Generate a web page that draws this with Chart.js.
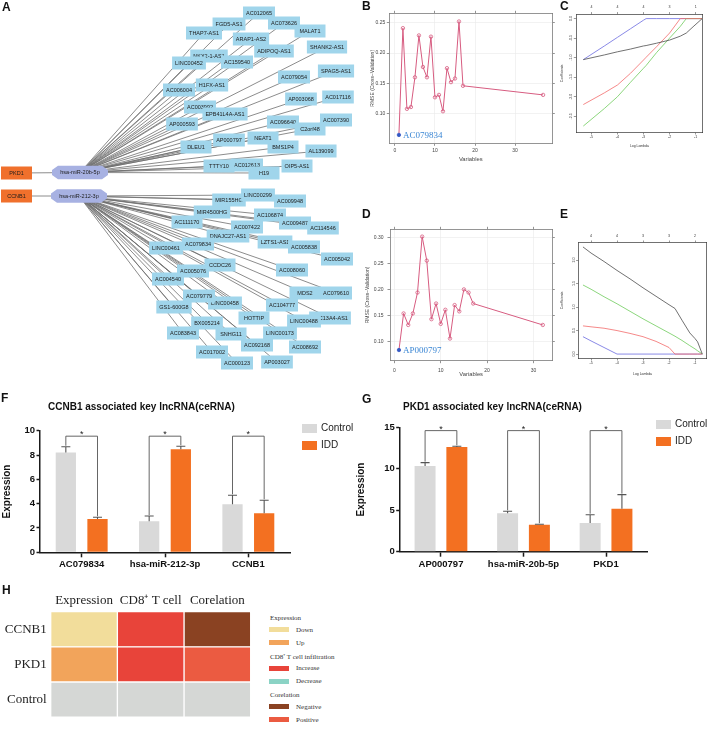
<!DOCTYPE html>
<html>
<head>
<meta charset="utf-8">
<title>ceRNA network, LASSO selection and validation</title>
<script src="https://cdn.jsdelivr.net/npm/chart.js@4.4.1/dist/chart.umd.min.js"></script>
<style>
  html, body { margin: 0; padding: 0; background: #fff; }
  #page { position: relative; width: 708px; height: 729px; overflow: hidden; font-family: "Liberation Sans", Arial, sans-serif; color: #111; }
  #page canvas { position: absolute; }
  .panel { position: absolute; font-weight: bold; font-size: 12px; line-height: 12px; }
  .title { position: absolute; font-weight: bold; font-size: 10px; line-height: 10px; white-space: nowrap; }
  .sw { position: absolute; width: 15px; height: 9px; }
  .lg { position: absolute; font-size: 10px; line-height: 12px; white-space: nowrap; color: #222; }
  .hl { position: absolute; font-family: "Liberation Serif", serif; font-size: 7px; line-height: 8px; white-space: nowrap; color: #333; }
  .hs { position: absolute; width: 20px; height: 5px; }
</style>
</head>
<body>
<div id="page">
  <canvas id="netA" width="355" height="392" style="left:0;top:0"></canvas>
  <canvas id="rmseB" width="220" height="168" style="left:340px;top:0"></canvas>
  <canvas id="pathC" width="153" height="160" style="left:555px;top:0"></canvas>
  <canvas id="rmseD" width="220" height="170" style="left:340px;top:212px"></canvas>
  <canvas id="pathE" width="153" height="170" style="left:555px;top:212px"></canvas>
  <canvas id="barF" width="354" height="172" style="left:0;top:412px"></canvas>
  <canvas id="barG" width="354" height="172" style="left:354px;top:412px"></canvas>
  <canvas id="heatH" width="262" height="144" style="left:0;top:585px"></canvas>

  <div class="panel" style="left:2px;top:1px">A</div>
  <div class="panel" style="left:362px;top:0px">B</div>
  <div class="panel" style="left:560px;top:0px">C</div>
  <div class="panel" style="left:362px;top:208px">D</div>
  <div class="panel" style="left:560px;top:208px">E</div>
  <div class="panel" style="left:1px;top:392px">F</div>
  <div class="panel" style="left:362px;top:393px">G</div>
  <div class="panel" style="left:2px;top:584px">H</div>

  <div class="title" style="left:48px;top:402px">CCNB1 associated key lncRNA(ceRNA)</div>
  <div class="title" style="left:403px;top:402px">PKD1 associated key lncRNA(ceRNA)</div>

  <div class="sw" style="left:302px;top:424px;background:#d9d9d9"></div>
  <div class="lg" style="left:321px;top:422px">Control</div>
  <div class="sw" style="left:302px;top:441px;background:#f37021"></div>
  <div class="lg" style="left:321px;top:439px">IDD</div>

  <div class="sw" style="left:656px;top:420px;background:#d9d9d9"></div>
  <div class="lg" style="left:675px;top:418px">Control</div>
  <div class="sw" style="left:656px;top:437px;background:#f37021"></div>
  <div class="lg" style="left:675px;top:435px">IDD</div>

  <div id="legendH"></div>
</div>

<script>
// ---------------- data ----------------

// A: ceRNA network
const mir20b = 'hsa-miR-20b-5p';
const mir212 = 'hsa-miR-212-3p';
const genes = ['PKD1', 'CCNB1'];
const geneMirna = { PKD1: mir20b, CCNB1: mir212 };
const targets20b = ['MALAT1', 'AC012065', 'FGD5-AS1', 'AC073626', 'THAP7-AS1', 'ARAP1-AS2',
  'ADIPOQ-AS1', 'SHANK2-AS1', 'NKX2-1-AS1', 'LINC00452', 'AC159540', 'SPAG5-AS1', 'AC079054',
  'AC006004', 'H1FX-AS1', 'AP003068', 'AC017116', 'AC003992', 'EPB41L4A-AS1', 'AP000593',
  'AC096640', 'AC007390', 'C2orf48', 'NEAT1', 'AP000797', 'DLEU1', 'BMS1P4', 'AL139099',
  'AC012613', 'TTTY10', 'H19', 'OIP5-AS1'];
const targets212 = ['MIR155HG', 'LINC00299', 'AC009948', 'MIR4500HG', 'AC106874', 'AC111170',
  'DNAJC27-AS1', 'AC007422', 'AC009487', 'AC114546', 'LZTS1-AS1', 'AC005838', 'LINC00461',
  'AC079834', 'AC005042', 'CCDC26', 'AC005076', 'AC008060', 'AC004540', 'MDS2', 'AC079610',
  'LINC00458', 'AC079779', 'GS1-600G8', 'AC104777', 'SLC13A4-AS1', 'LINC00488', 'HOTTIP',
  'BX005214', 'AC083843', 'SNHG11', 'LINC00173', 'AC092168', 'AC008692', 'AC017002',
  'AP003027', 'AC000123'];
// network layout (layout units of the drawing)
const layoutA = {
  'PKD1': [16.5, 173], 'CCNB1': [16.5, 196],
  'hsa-miR-20b-5p': [80, 172.5], 'hsa-miR-212-3p': [79, 196],
  'MALAT1': [310, 31], 'AC012065': [259, 13], 'FGD5-AS1': [229, 24], 'AC073626': [284, 23],
  'THAP7-AS1': [204, 33], 'ARAP1-AS2': [251, 39], 'ADIPOQ-AS1': [274, 51], 'SHANK2-AS1': [327, 47],
  'NKX2-1-AS1': [209, 56], 'LINC00452': [189, 63], 'AC159540': [237, 62], 'SPAG5-AS1': [336, 71],
  'AC079054': [294, 77], 'AC006004': [179, 90], 'H1FX-AS1': [212, 85], 'AP003068': [301, 99],
  'AC017116': [338, 97], 'AC003992': [200, 107], 'EPB41L4A-AS1': [225, 114], 'AP000593': [182, 124],
  'AC096640': [283, 122], 'AC007390': [336, 120], 'C2orf48': [310, 129], 'NEAT1': [263, 138],
  'AP000797': [229, 140], 'DLEU1': [196, 147], 'BMS1P4': [283, 147], 'AL139099': [321, 151],
  'AC012613': [247, 165], 'TTTY10': [219, 166], 'H19': [264, 173], 'OIP5-AS1': [297, 166],
  'MIR155HG': [229, 200], 'LINC00299': [258, 195], 'AC009948': [290, 201], 'MIR4500HG': [212, 212],
  'AC106874': [270, 215], 'AC111170': [187, 222], 'DNAJC27-AS1': [228, 236], 'AC007422': [247, 227],
  'AC009487': [295, 223], 'AC114546': [323, 228], 'LZTS1-AS1': [275, 242], 'AC005838': [304, 247],
  'LINC00461': [166, 248], 'AC079834': [198, 244], 'AC005042': [337, 259], 'CCDC26': [220, 265],
  'AC005076': [193, 271], 'AC008060': [292, 270], 'AC004540': [168, 279], 'MDS2': [305, 293],
  'AC079610': [336, 293], 'LINC00458': [225, 303], 'AC079779': [199, 296], 'GS1-600G8': [174, 307],
  'AC104777': [282, 305], 'SLC13A4-AS1': [330, 318], 'LINC00488': [304, 321], 'HOTTIP': [254, 318],
  'BX005214': [207, 323], 'AC083843': [183, 333], 'SNHG11': [231, 334], 'LINC00173': [280, 333],
  'AC092168': [257, 345], 'AC008692': [305, 347], 'AC017002': [212, 352], 'AP003027': [277, 362],
  'AC000123': [237, 363]
};

// B / D: RMSE of cross-validation against number of variables
const bVariables = [1, 2, 3, 4, 5, 6, 7, 8, 9, 10, 11, 12, 13, 14, 15, 16, 17, 37];
const bRmse = [0.065, 0.241, 0.108, 0.111, 0.160, 0.229, 0.177, 0.160, 0.227, 0.127,
  0.131, 0.104, 0.175, 0.152, 0.158, 0.252, 0.146, 0.131];
const bBest = 'AC079834';
const dVariables = [1, 2, 3, 4, 5, 6, 7, 8, 9, 10, 11, 12, 13, 14, 15, 16, 17, 32];
const dRmse = [0.084, 0.154, 0.132, 0.154, 0.194, 0.301, 0.255, 0.143, 0.173, 0.134,
  0.161, 0.106, 0.170, 0.158, 0.200, 0.194, 0.173, 0.132];
const dBest = 'AP000797';
const variableTicks = [0, 10, 20, 30];
const bRmseTicks = [0.10, 0.15, 0.20, 0.25];
const dRmseTicks = [0.10, 0.15, 0.20, 0.25, 0.30];

// C / E: LASSO coefficient paths (black, red, green, blue)
const lambdaTicks = [-5, -4, -3, -2, -1];
const cDf = ['4', '4', '4', '3', '1'];
const eDf = ['4', '4', '3', '3', '2'];
const cCoefTicks = [0, -0.5, -1, -1.5, -2, -2.5];
const eCoefTicks = [0, 0.5, 1, 1.5, 2];
const cLogLambda = [-5.31, -4.5, -4, -3.5, -3, -2.9, -2.5, -2, -1.59, -1.36, -1.1, -0.75];
const cBlack = [-1.05, -0.93, -0.85, -0.78, -0.70, -0.69, -0.63, -0.55, -0.45, -0.37, -0.21, 0];
const cRed = [-2.2, -1.9, -1.7, -1.4, -1.06, -0.99, -0.72, -0.37, 0, 0, 0, 0];
const cGreen = [-2.75, -2.3, -2.0, -1.63, -1.27, -1.2, -0.87, -0.5, -0.2, 0, 0, 0];
const cBlue = [-1.05, -0.7, -0.48, -0.26, -0.04, 0, 0, 0, 0, 0, 0, 0];
const eLogLambda = [-5.31, -5, -4.5, -4, -3.5, -3, -2.5, -2, -1.77, -1.5, -1.2, -1, -0.9, -0.72];
const eBlack = [2.28, 2.15, 1.97, 1.78, 1.60, 1.41, 1.23, 1.05, 0.97, 0.72, 0.45, 0.33, 0.26, 0];
const eRed = [0.60, 0.58, 0.55, 0.50, 0.44, 0.37, 0.27, 0.14, 0, 0, 0, 0, 0, 0];
const eGreen = [1.47, 1.38, 1.22, 1.07, 0.91, 0.75, 0.60, 0.45, 0.38, 0.29, 0.18, 0.11, 0.07, 0];
const eBlue = [0.37, 0.28, 0.14, 0, 0, 0, 0, 0, 0, 0, 0, 0, 0, 0];

// F / G: expression bars (mean and SD)
const fCategories = ['AC079834', 'hsa-miR-212-3p', 'CCNB1'];
const fControl = [8.2, 2.55, 3.95];
const fControlSd = [0.48, 0.43, 0.74];
const fIdd = [2.74, 8.47, 3.21];
const fIddSd = [0.14, 0.25, 1.07];
const fSignif = ['*', '*', '*'];
const fSignifLevel = 9.55;
const gCategories = ['AP000797', 'hsa-miR-20b-5p', 'PKD1'];
const gControl = [10.34, 4.63, 3.46];
const gControlSd = [0.40, 0.24, 1.00];
const gIdd = [12.63, 3.26, 5.19];
const gIddSd = [0.08, 0.05, 1.69];
const gSignif = ['*', '*', '*'];
const gSignifLevel = 14.6;

// H: summary heatmap
const hRows = ['CCNB1', 'PKD1', 'Control'];
const hCols = ['Expression', 'CD8\u207A T cell', 'Corelation'];
const hExpression = ['Down', 'Up', null];
const hCd8 = ['Increase', 'Increase', null];
const hCorelation = ['Negative', 'Positive', null];
const hGroups = [
  { title: 'Expression', items: ['Down', 'Up'] },
  { title: 'CD8\u207A T cell infiltration', items: ['Increase', 'Decrease'] },
  { title: 'Corelation', items: ['Negative', 'Positive'] }
];
const stateColor = { Down: '#f2dd9b', Up: '#f2a45b', Increase: '#e8443a', Decrease: '#8bd3c5',
  Negative: '#8a4222', Positive: '#eb5b41' };
const emptyColor = '#d5d7d5';

// ---------------- chart defaults ----------------
Chart.defaults.animation = false;
Chart.defaults.responsive = false;
Chart.defaults.maintainAspectRatio = false;
Chart.defaults.font.family = '"Liberation Sans", Arial, sans-serif';
Chart.defaults.plugins.legend.display = false;
Chart.defaults.plugins.tooltip.enabled = false;

const fixTicks = (values) => (axis) => { axis.ticks = values.map(v => ({ value: v })); };
const fixWidth = (w) => (axis) => { axis.width = w; };
const fixHeight = (h) => (axis) => { axis.height = h; };

// ---------------- A: network ----------------
const networkNodes = {
  id: 'networkNodes',
  afterDatasetsDraw(chart) {
    const ctx = chart.ctx;
    const di = chart.data.datasets.findIndex(d => d.nodeLayer);
    const nodes = chart.data.datasets[di].data;
    const meta = chart.getDatasetMeta(di);
    ctx.save();
    ctx.font = '5.5px "Liberation Sans", Arial, sans-serif';
    ctx.textAlign = 'center';
    ctx.textBaseline = 'middle';
    meta.data.forEach((el, i) => {
      const node = nodes[i];
      const x = el.x, y = el.y;
      if (node.kind === 'mirna') {
        const hw = 28, hh = 6.8, b = 6;
        ctx.fillStyle = '#a7b1e2';
        ctx.beginPath();
        ctx.moveTo(x - hw, y - 2.5);
        ctx.lineTo(x - hw + b, y - hh);
        ctx.lineTo(x + hw - b, y - hh);
        ctx.lineTo(x + hw, y - 2.5);
        ctx.lineTo(x + hw, y + 2.5);
        ctx.lineTo(x + hw - b, y + hh);
        ctx.lineTo(x - hw + b, y + hh);
        ctx.lineTo(x - hw, y + 2.5);
        ctx.closePath();
        ctx.fill();
      } else {
        const w = node.kind === 'gene' ? 31 : Math.max(31, ctx.measureText(node.name).width + 6);
        ctx.fillStyle = node.kind === 'gene' ? '#f0702c' : '#a0d5eb';
        ctx.fillRect(x - w / 2, y - 6.5, w, 13);
      }
      ctx.fillStyle = '#1c1c1c';
      ctx.fillText(node.name, x, y + 0.3);
    });
    ctx.restore();
  }
};

(function () {
  const pt = (name) => ({ x: layoutA[name][0], y: layoutA[name][1], name });
  const edges = [];
  genes.forEach(g => edges.push([pt(g), pt(geneMirna[g])]));
  targets20b.forEach(t => edges.push([pt(mir20b), pt(t)]));
  targets212.forEach(t => edges.push([pt(mir212), pt(t)]));
  const nodes = [
    ...targets20b.map(t => ({ ...pt(t), kind: 'lnc' })),
    ...targets212.map(t => ({ ...pt(t), kind: 'lnc' })),
    ...genes.map(g => ({ ...pt(g), kind: 'gene' })),
    ...[mir20b, mir212].map(m => ({ ...pt(m), kind: 'mirna' }))
  ];
  const datasets = edges.map(e => ({
    data: e, showLine: true, borderColor: '#6e6e6e', borderWidth: 0.8, pointRadius: 0
  }));
  datasets.push({ data: nodes, nodeLayer: true, pointRadius: 0, showLine: false });
  new Chart(document.getElementById('netA'), {
    type: 'scatter',
    data: { datasets },
    options: {
      layout: { padding: 0 },
      scales: {
        x: { type: 'linear', min: 0, max: 355, display: false },
        y: { type: 'linear', min: 0, max: 392, reverse: true, display: false }
      }
    },
    plugins: [networkNodes]
  });
})();

// ---------------- B / D: RMSE curves ----------------
function bestLabel(text) {
  return {
    id: 'bestLabel',
    afterDatasetsDraw(chart) {
      const p = chart.getDatasetMeta(0).data[0];
      const ctx = chart.ctx;
      ctx.save();
      ctx.font = '9px "Liberation Serif", "Times New Roman", serif';
      ctx.fillStyle = '#3a86d4';
      ctx.textBaseline = 'middle';
      ctx.fillText(text, p.x + 4, p.y + 0.5);
      ctx.restore();
    }
  };
}

function rmseChart(id, vars, rmse, best, yTicks, f) {
  const line = '#d75c80';
  const tick = { color: '#444', font: { size: 5 }, padding: f.tickPad };
  const grid = { color: '#e9e9e9', lineWidth: 0.6, tickColor: '#666', tickLength: 2.5, tickWidth: 0.7 };
  const border = { color: '#7a7a7a', width: 0.8 };
  const side = { drawOnChartArea: false, tickColor: '#666', tickLength: 2.5, tickWidth: 0.7 };
  new Chart(document.getElementById(id), {
    type: 'scatter',
    data: {
      datasets: [{
        data: vars.map((v, i) => ({ x: v, y: rmse[i] })),
        showLine: true,
        borderColor: line,
        borderWidth: 1,
        pointRadius: 1.7,
        pointBorderWidth: 0.8,
        pointBorderColor: c => c.dataIndex === 0 ? '#3358c4' : line,
        pointBackgroundColor: c => c.dataIndex === 0 ? '#3358c4' : 'rgba(255,255,255,0)'
      }]
    },
    options: {
      layout: { padding: 0 },
      scales: {
        x: {
          type: 'linear', position: 'bottom', min: f.xMin, max: f.xMax,
          afterBuildTicks: fixTicks(variableTicks), afterFit: fixHeight(f.xh),
          grid, border, ticks: { ...tick, maxRotation: 0 },
          title: { display: true, text: 'Variables', color: '#444', font: { size: 5.8 },
            padding: { top: 0, bottom: f.xTitlePad } }
        },
        x2: {
          type: 'linear', position: 'top', min: f.xMin, max: f.xMax,
          afterBuildTicks: fixTicks(variableTicks), afterFit: fixHeight(f.x2h),
          grid: side, border, ticks: { display: false }
        },
        y: {
          type: 'linear', position: 'left', min: f.yMin, max: f.yMax,
          afterBuildTicks: fixTicks(yTicks), afterFit: fixWidth(f.yw),
          grid, border, ticks: { ...tick, callback: v => v.toFixed(2) },
          title: { display: true, text: 'RMSE (Cross\u2212Validation)', color: '#444', font: { size: 5 },
            padding: { top: f.yTitlePad, bottom: 0 } }
        },
        y2: {
          type: 'linear', position: 'right', min: f.yMin, max: f.yMax,
          afterBuildTicks: fixTicks(yTicks), afterFit: fixWidth(f.y2w),
          grid: side, border, ticks: { display: false }
        }
      }
    },
    plugins: [bestLabel(best)]
  });
}

rmseChart('rmseB', bVariables, bRmse, bBest, bRmseTicks, {
  xMin: -1.4, xMax: 39.3, yMin: 0.0512, yMax: 0.2655,
  yw: 49.3, y2w: 7.7, x2h: 13.3, xh: 24.7, tickPad: 1.5, yTitlePad: 29.7, xTitlePad: 5.1
});
rmseChart('rmseD', dVariables, dRmse, dBest, dRmseTicks, {
  xMin: -0.93, xMax: 34.05, yMin: 0.0636, yMax: 0.315,
  yw: 50, y2w: 7.7, x2h: 17.3, xh: 21.3, tickPad: 4, yTitlePad: 24.3, xTitlePad: 4.4
});

// ---------------- C / E: coefficient paths ----------------
const pathColors = ['#4d4d4d', '#f26b6b', '#6fcb5c', '#6b6be0'];

function pathChart(id, logLambda, paths, df, yTicks, f) {
  const tick = { color: '#333', font: { size: 3.6 }, padding: 0.5 };
  const grid = { drawOnChartArea: false, tickColor: '#333', tickLength: 2.2, tickWidth: 0.5 };
  const border = { color: '#333', width: 0.7 };
  new Chart(document.getElementById(id), {
    type: 'scatter',
    data: {
      datasets: paths.map((p, k) => ({
        data: logLambda.map((l, i) => ({ x: l, y: p[i] })),
        showLine: true, borderColor: pathColors[k], borderWidth: 0.8, pointRadius: 0
      }))
    },
    options: {
      layout: { padding: 0 },
      scales: {
        x: {
          type: 'linear', position: 'bottom', min: f.xMin, max: f.xMax,
          afterBuildTicks: fixTicks(lambdaTicks), afterFit: fixHeight(f.xh),
          grid, border, ticks: { ...tick, maxRotation: 0 },
          title: { display: true, text: 'Log Lambda', color: '#333', font: { size: 3.4 },
            padding: { top: 0, bottom: f.xTitlePad } }
        },
        x2: {
          type: 'linear', position: 'top', min: f.xMin, max: f.xMax,
          afterBuildTicks: fixTicks(lambdaTicks), afterFit: fixHeight(f.x2h),
          grid, border, ticks: { ...tick, padding: f.topPad, maxRotation: 0, callback: (v, i) => df[i] }
        },
        y: {
          type: 'linear', position: 'left', min: f.yMin, max: f.yMax,
          afterBuildTicks: fixTicks(yTicks), afterFit: fixWidth(f.yw),
          grid, border,
          ticks: { ...tick, padding: 0, crossAlign: 'center', minRotation: 90, maxRotation: 90, callback: v => v.toFixed(1) },
          title: { display: true, text: 'Coefficients', color: '#333', font: { size: 3.4 },
            padding: { top: f.yTitlePad, bottom: 0 } }
        },
        y2: {
          type: 'linear', position: 'right', min: f.yMin, max: f.yMax, afterFit: fixWidth(f.y2w),
          grid: { display: false }, border, ticks: { display: false }
        }
      }
    }
  });
}

pathChart('pathC', cLogLambda, [cBlack, cRed, cGreen, cBlue], cDf, cCoefTicks, {
  xMin: -5.59, xMax: -0.73, yMin: -2.91, yMax: 0.11,
  yw: 21, y2w: 5.3, x2h: 14.3, xh: 27.7, topPad: 2.7, yTitlePad: 4.6, xTitlePad: 11.9
});
pathChart('pathE', eLogLambda, [eBlack, eRed, eGreen, eBlue], eDf, eCoefTicks, {
  xMin: -5.49, xMax: -0.55, yMin: -0.09, yMax: 2.37,
  yw: 23.3, y2w: 1.3, x2h: 30.7, xh: 23.7, topPad: 2.8, yTitlePad: 4.6, xTitlePad: 5.9
});

// ---------------- F / G: bars with SD and significance ----------------
function errorAndSignif(sds, signif, level) {
  return {
    id: 'errorAndSignif',
    afterDatasetsDraw(chart) {
      const ctx = chart.ctx;
      const ys = chart.scales.y;
      const tops = [];
      ctx.save();
      ctx.strokeStyle = '#555';
      ctx.lineWidth = 1.1;
      chart.data.datasets.forEach((ds, d) => {
        chart.getDatasetMeta(d).data.forEach((bar, i) => {
          const top = ys.getPixelForValue(ds.data[i] + sds[d][i]);
          (tops[i] = tops[i] || [])[d] = { x: bar.x, y: top };
          ctx.beginPath();
          ctx.moveTo(bar.x, bar.y);
          ctx.lineTo(bar.x, top);
          ctx.moveTo(bar.x - 4.5, top);
          ctx.lineTo(bar.x + 4.5, top);
          ctx.stroke();
        });
      });
      const yb = ys.getPixelForValue(level);
      ctx.lineWidth = 0.9;
      ctx.fillStyle = '#222';
      ctx.font = '9px "Liberation Sans", Arial, sans-serif';
      ctx.textAlign = 'center';
      ctx.textBaseline = 'alphabetic';
      tops.forEach((pair, i) => {
        const [a, b] = pair;
        ctx.beginPath();
        ctx.moveTo(a.x, a.y - 1);
        ctx.lineTo(a.x, yb);
        ctx.lineTo(b.x, yb);
        ctx.lineTo(b.x, b.y - 1);
        ctx.stroke();
        ctx.fillText(signif[i], (a.x + b.x) / 2, yb + 1);
      });
      ctx.restore();
    }
  };
}

function barChart(id, cats, control, controlSd, idd, iddSd, signif, level, yMax, yStep, f) {
  const axisColor = '#1a1a1a';
  const bold = { size: 9.5, weight: 'bold' };
  new Chart(document.getElementById(id), {
    type: 'bar',
    data: {
      labels: cats,
      datasets: [
        { label: 'Control', data: control, backgroundColor: '#d9d9d9',
          categoryPercentage: f.catPct, barPercentage: f.barPct },
        { label: 'IDD', data: idd, backgroundColor: '#f37021',
          categoryPercentage: f.catPct, barPercentage: f.barPct }
      ]
    },
    options: {
      layout: { padding: { top: f.top, right: f.right, left: 0, bottom: 0 } },
      scales: {
        x: {
          afterFit: fixHeight(f.xh),
          grid: { offset: false, drawOnChartArea: false, tickLength: 5, tickWidth: 1.5, tickColor: axisColor },
          border: { color: axisColor, width: 1.5 },
          ticks: { font: bold, color: '#111', padding: 1.5, maxRotation: 0, autoSkip: false }
        },
        y: {
          min: 0, max: yMax, afterFit: fixWidth(f.yw),
          grid: { drawOnChartArea: false, tickLength: 3.5, tickWidth: 1.5, tickColor: axisColor },
          border: { color: axisColor, width: 1.5 },
          ticks: { stepSize: yStep, font: bold, color: '#111', padding: 1.5 },
          title: { display: true, text: 'Expression', font: { size: 10, weight: 'bold' }, color: '#111',
            padding: { top: f.yTitlePad, bottom: 0 } }
        }
      }
    },
    plugins: [errorAndSignif([controlSd, iddSd], signif, level)]
  });
}

barChart('barF', fCategories, fControl, fControlSd, fIdd, fIddSd, fSignif, fSignifLevel, 10, 2, {
  top: 18.7, right: 64, xh: 31.7, yw: 40, yTitlePad: 1.3, catPct: 0.76, barPct: 0.64
});
barChart('barG', gCategories, gControl, gControlSd, gIdd, gIddSd, gSignif, gSignifLevel, 15, 5, {
  top: 15.3, right: 60.7, xh: 32.3, yw: 45.7, yTitlePad: 1.3, catPct: 0.77, barPct: 0.66
});

// ---------------- H: summary heatmap ----------------
(function () {
  const serif = '"Liberation Serif", "Times New Roman", serif';
  const columns = [hExpression, hCd8, hCorelation];
  new Chart(document.getElementById('heatH'), {
    type: 'bar',
    data: {
      labels: hRows,
      datasets: columns.map((states, c) => ({
        label: hCols[c],
        data: hRows.map(() => 1),
        backgroundColor: states.map(s => s ? stateColor[s] : emptyColor),
        borderColor: '#ffffff', borderWidth: 1, borderSkipped: false,
        barPercentage: 1, categoryPercentage: 1
      }))
    },
    options: {
      indexAxis: 'y',
      layout: { padding: { top: 0, right: 11.3, bottom: 2.3, left: 0 } },
      scales: {
        x: {
          stacked: true, position: 'top', min: 0, max: hCols.length,
          afterBuildTicks: fixTicks(hCols.map((_, i) => i + 0.5)), afterFit: fixHeight(26.7),
          grid: { display: false, drawTicks: false }, border: { display: false },
          ticks: { font: { family: serif, size: 13 }, color: '#222', padding: 3, maxRotation: 0,
            callback: (v, i) => hCols[i] }
        },
        y: {
          stacked: true, afterFit: fixWidth(50.7),
          grid: { display: false, drawTicks: false }, border: { display: false },
          ticks: { font: { family: serif, size: 13 }, color: '#222', padding: 4 }
        }
      }
    }
  });

  // grouped legend
  const box = document.getElementById('legendH');
  let y = 618.3;
  let html = '';
  hGroups.forEach((g, gi) => {
    if (gi > 0) y += 14;
    html += `<div class="hl" style="left:270px;top:${(y - 4).toFixed(1)}px">${g.title}</div>`;
    g.items.forEach((item, ii) => {
      y += ii === 0 ? 11.4 : 13;
      html += `<div class="hs" style="left:269px;top:${(y - 2.5).toFixed(1)}px;background:${stateColor[item]}"></div>`;
      html += `<div class="hl" style="left:296px;top:${(y - 4).toFixed(1)}px">${item}</div>`;
    });
  });
  box.innerHTML = html;
})();
</script>
</body>
</html>
